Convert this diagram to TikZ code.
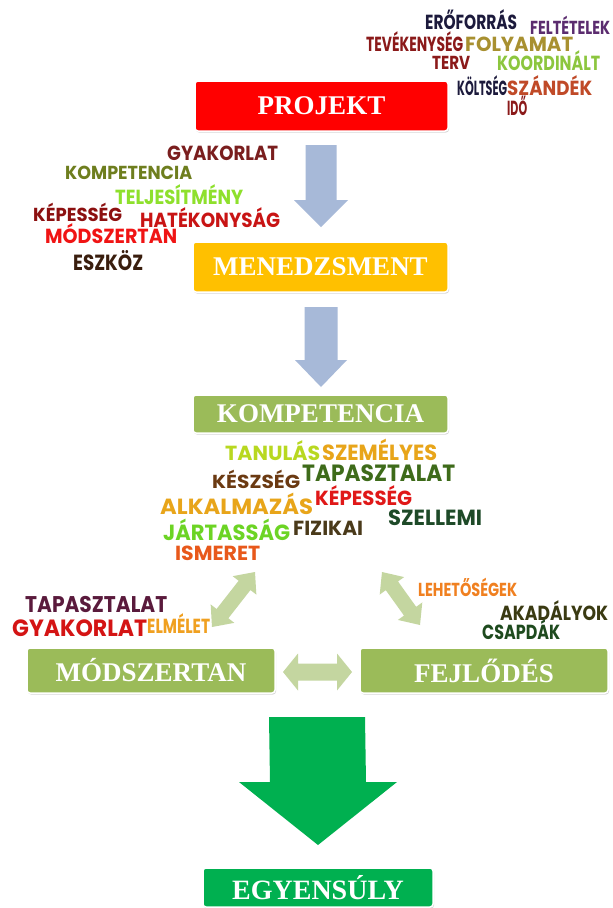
\documentclass[tikz,border=0pt]{standalone}
\usepackage{fontspec}
\setmainfont{Liberation Serif}
\newfontfamily\cloudfont{Poppins}
\usetikzlibrary{calc,shadows}

\definecolor{cRed}{HTML}{FF0000}
\definecolor{cOrange}{HTML}{FFC000}
\definecolor{cOlive}{HTML}{9BBB59}
\definecolor{cGreen}{HTML}{00B050}
\definecolor{cBlueArr}{HTML}{A7B9D8}
\definecolor{cLightArr}{HTML}{C4D6A0}

\definecolor{wNavy}{HTML}{1C1A3C}
\definecolor{wPurple}{HTML}{5B2C6F}
\definecolor{wMaroon}{HTML}{8B1A1A}
\definecolor{wGold}{HTML}{A89030}
\definecolor{wLime}{HTML}{8CC63E}
\definecolor{wRust}{HTML}{C04A28}
\definecolor{wDarkRed}{HTML}{7A1E1E}
\definecolor{wOliveD}{HTML}{6E7E1E}
\definecolor{wBrightG}{HTML}{8EE02C}
\definecolor{wRed2}{HTML}{8C1010}
\definecolor{wRed3}{HTML}{C81414}
\definecolor{wRed4}{HTML}{F01414}
\definecolor{wBrownD}{HTML}{3A1E0E}
\definecolor{wYellowG}{HTML}{B8D820}
\definecolor{wAmber}{HTML}{E8A51A}
\definecolor{wBrown}{HTML}{6B3A12}
\definecolor{wForest}{HTML}{3E6B1A}
\definecolor{wRed5}{HTML}{E01818}
\definecolor{wPine}{HTML}{1E4A28}
\definecolor{wGreen2}{HTML}{6CD424}
\definecolor{wUmber}{HTML}{4A3A1A}
\definecolor{wOrangeR}{HTML}{E8581A}
\definecolor{wPlum}{HTML}{5A1A3C}
\definecolor{wRed6}{HTML}{D41414}
\definecolor{wAmber2}{HTML}{F0A020}
\definecolor{wOrange2}{HTML}{F08020}
\definecolor{wOliveDk}{HTML}{3A3A12}
\definecolor{wGreenDk}{HTML}{1E4A1E}

\newlength\cwl
\newlength\cwh
% width, cap height, colour, text
\newcommand\cw[4]{%
  \settowidth\cwl{\cloudfont\bfseries #4}%
  \settoheight\cwh{\cloudfont\bfseries H}%
  \edef\cwx{\fpeval{#1/\cwl}}%
  \edef\cwy{\fpeval{1.1*#2/\cwh}}%
  \scalebox{\cwx}[\cwy]{\color{#3}\cloudfont\bfseries #4}}

% double block arrow between two named coordinates
% #1 style, #2 A, #3 B, #4 head length, #5 head half width, #6 shaft half width
\newcommand\dblarr[6]{%
  \fill[#1] (#2)
    -- ($(#2)!#4!(#3)!#5!90:(#3)$)
    -- ($(#2)!#4!(#3)!#6!90:(#3)$)
    -- ($(#3)!#4!(#2)!#6!-90:(#2)$)
    -- ($(#3)!#4!(#2)!#5!-90:(#2)$)
    -- (#3)
    -- ($(#3)!#4!(#2)!#5!90:(#2)$)
    -- ($(#3)!#4!(#2)!#6!90:(#2)$)
    -- ($(#2)!#4!(#3)!#6!-90:(#3)$)
    -- ($(#2)!#4!(#3)!#5!-90:(#3)$)
    -- cycle;}

% down block arrow: #1 style, #2 top, #3 tip, #4 shaft half, #5 head half, #6 head length
\newcommand\blockdown[6]{%
  \fill[#1] ($(#2)+(-#4,0)$) -- ($(#2)+(#4,0)$) -- ($(#3)+(#4,-#6)$)
    -- ($(#3)+(#5,-#6)$) -- (#3) -- ($(#3)+(-#5,-#6)$) -- ($(#3)+(-#4,-#6)$) -- cycle;}

\tikzset{
  box/.style={rounded corners=3pt, draw=white, line width=1.5pt, text=white,
    font=\bfseries\fontsize{27}{27}\selectfont, inner sep=0pt,
    drop shadow={opacity=0.25, shadow xshift=1pt, shadow yshift=-1.5pt, fill=black!60}},
  word/.style={inner sep=0pt, anchor=base west},
  bluearr/.style={fill=cBlueArr},
  lightarr/.style={fill=cLightArr},
  bigarr/.style={fill=cGreen},
}

\begin{document}
\begin{tikzpicture}[x=1pt,y=-1pt]
\fill[white] (0,0) rectangle (613,908);
\useasboundingbox (0,0) rectangle (613,908);

% boxes
\node[box, fill=cRed, minimum width=253pt, minimum height=50pt] (projekt) at (321.5,106) {PROJEKT};
\node[box, fill=cOrange, minimum width=255pt, minimum height=50pt] (menedzsment) at (320.5,267) {MENEDZSMENT};
\node[box, fill=cOlive, minimum width=255pt, minimum height=38pt] (kompetencia) at (320.5,414) {KOMPETENCIA};
\node[box, fill=cOlive, minimum width=248pt, minimum height=45pt] (modszertan) at (151,670.5) {MÓDSZERTAN};
\node[box, fill=cOlive, minimum width=248pt, minimum height=45pt] (fejlodes) at (484,670.5) {FEJLŐDÉS};
\node[box, fill=cGreen, minimum width=230pt, minimum height=39pt, font=\bfseries\fontsize{28}{28}\selectfont] (egyensuly) at (318,887.5) {EGYENSÚLY};

% block arrows
\coordinate (a1top) at (321,145);
\coordinate (a1tip) at (321,227);
\coordinate (a2top) at (321,307);
\coordinate (a2tip) at (321,387);
\coordinate (a3top) at (317,717);
\coordinate (a3tip) at (318,845);
\blockdown{bluearr}{a1top}{a1tip}{15.5}{27}{27}
\blockdown{bluearr}{a2top}{a2tip}{16.5}{26}{27}
\blockdown{bigarr}{a3top}{a3tip}{48}{79}{63}

\coordinate (dlA) at (212,627);
\coordinate (dlB) at (255,572);
\coordinate (drA) at (382,572);
\coordinate (drB) at (420,625);
\coordinate (dhA) at (283,672);
\coordinate (dhB) at (352,672);
\dblarr{lightarr}{dlA}{dlB}{17pt}{15pt}{7.5pt}
\dblarr{lightarr}{drA}{drB}{17pt}{15pt}{7.5pt}
\dblarr{lightarr}{dhA}{dhB}{15pt}{18.5pt}{8.5pt}

% top cloud
\node[word] (t1) at (425,29.5) {\cw{92}{13}{wNavy}{ERŐFORRÁS}};
\node[word] (t2) at (530,34) {\cw{80}{12}{wPurple}{FELTÉTELEK}};
\node[word] (t3) at (366,51.5) {\cw{97}{13}{wMaroon}{TEVÉKENYSÉG}};
\node[word] (t4) at (465,51.5) {\cw{108}{13}{wGold}{FOLYAMAT}};
\node[word] (t5) at (432,69.5) {\cw{38}{12}{wMaroon}{TERV}};
\node[word] (t6) at (497,70.5) {\cw{103}{13}{wLime}{KOORDINÁLT}};
\node[word] (t7) at (457,95) {\cw{50}{13}{wNavy}{KÖLTSÉG}};
\node[word] (t8) at (507,95) {\cw{85}{13}{wRust}{SZÁNDÉK}};
\node[word] (t9) at (507,115) {\cw{20}{13}{wMaroon}{IDŐ}};

% left cloud
\node[word] (l1) at (167,160) {\cw{111}{13}{wDarkRed}{GYAKORLAT}};
\node[word] (l2) at (65,179.5) {\cw{127}{12}{wOliveD}{KOMPETENCIA}};
\node[word] (l3) at (115,204) {\cw{128}{13}{wBrightG}{TELJESÍTMÉNY}};
\node[word] (l4) at (33,221.5) {\cw{89}{12}{wRed2}{KÉPESSÉG}};
\node[word] (l5) at (140,227) {\cw{140}{13}{wRed3}{HATÉKONYSÁG}};
\node[word] (l6) at (45,243) {\cw{132}{13}{wRed4}{MÓDSZERTAN}};
\node[word] (l7) at (73,270.5) {\cw{70}{14}{wBrownD}{ESZKÖZ}};

% middle cloud
\node[word] (m1) at (225,460) {\cw{95}{13}{wYellowG}{TANULÁS}};
\node[word] (m2) at (322,460.5) {\cw{115}{14}{wAmber}{SZEMÉLYES}};
\node[word] (m3) at (212,488.5) {\cw{88}{12}{wBrown}{KÉSZSÉG}};
\node[word] (m4) at (302,481) {\cw{153}{15}{wForest}{TAPASZTALAT}};
\node[word] (m5) at (160,514.5) {\cw{153}{14}{wAmber}{ALKALMAZÁS}};
\node[word] (m6) at (315,505) {\cw{97}{13}{wRed5}{KÉPESSÉG}};
\node[word] (m7) at (388,525.5) {\cw{94}{14}{wPine}{SZELLEMI}};
\node[word] (m8) at (163,540.5) {\cw{127}{14}{wGreen2}{JÁRTASSÁG}};
\node[word] (m9) at (293,535) {\cw{70}{13}{wUmber}{FIZIKAI}};
\node[word] (m10) at (175,560) {\cw{85}{13}{wOrangeR}{ISMERET}};

% bottom left cloud
\node[word] (b1) at (25,612.5) {\cw{142}{14.5}{wPlum}{TAPASZTALAT}};
\node[word] (b2) at (12,636) {\cw{135}{15}{wRed6}{GYAKORLAT}};
\node[word] (b3) at (147,633) {\cw{63}{13}{wAmber2}{ELMÉLET}};

% bottom right cloud
\node[word] (r1) at (418,596.5) {\cw{99}{12}{wOrange2}{LEHETŐSÉGEK}};
\node[word] (r2) at (500,620) {\cw{108}{13}{wOliveDk}{AKADÁLYOK}};
\node[word] (r3) at (482,639.5) {\cw{78}{13}{wGreenDk}{CSAPDÁK}};
\end{tikzpicture}
\end{document}
